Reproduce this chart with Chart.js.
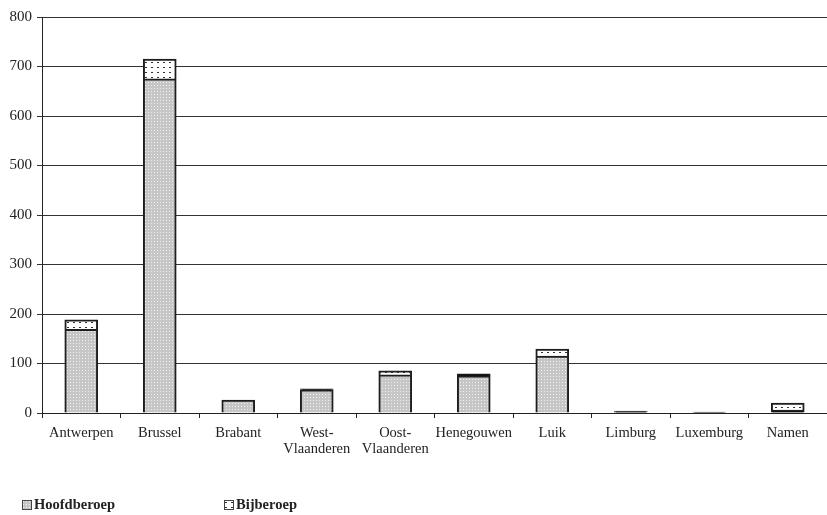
<!DOCTYPE html>
<html>
<head>
<meta charset="utf-8">
<script src="https://cdn.jsdelivr.net/npm/chart.js@4/dist/chart.umd.min.js"></script>
<style>
  html, body { margin: 0; padding: 0; background: #fff; }
  #wrap { position: relative; width: 827px; height: 515px; }
  #chart { position: absolute; left: 0; top: 0; }
  .legend { position: absolute; top: 496px; font: bold 14.5px "Liberation Serif", serif; color: #222; display: flex; align-items: center; }
  .legend canvas { margin-right: 2px; }
</style>
</head>
<body>
<div id="wrap">
  <canvas id="chart" width="827" height="515"></canvas>
  <div class="legend" style="left:22px"><canvas id="sw0" width="10" height="10"></canvas><span>Hoofdberoep</span></div>
  <div class="legend" style="left:224px"><canvas id="sw1" width="10" height="10"></canvas><span>Bijberoep</span></div>
</div>
<script>
// Provinces / regions on the x axis
const categories = [
  'Antwerpen', 'Brussel', 'Brabant', ['West-', 'Vlaanderen'], ['Oost-', 'Vlaanderen'],
  'Henegouwen', 'Luik', 'Limburg', 'Luxemburg', 'Namen'
];
// Main occupation
const hoofdberoep = [169, 675, 26, 47, 77, 75, 115, 3, 2, 6];
// Secondary occupation
const bijberoep = [19, 40, 0, 2, 8, 4, 14, 1, 0, 14];
// Value axis ticks
const yTicks = [0, 100, 200, 300, 400, 500, 600, 700, 800];

const seriesNames = ['Hoofdberoep', 'Bijberoep'];

// Fine grey texture for the main series
function greyPattern() {
  const c = document.createElement('canvas');
  c.width = 3; c.height = 3;
  const g = c.getContext('2d');
  g.fillStyle = '#c6c6c6';
  g.fillRect(0, 0, 3, 3);
  g.fillStyle = '#f0f0f0';
  g.fillRect(1, 1, 1, 1);
  return c;
}
// Sparse black dots on white for the secondary series
function dotPattern() {
  const c = document.createElement('canvas');
  c.width = 6; c.height = 5;
  const g = c.getContext('2d');
  g.fillStyle = '#ffffff';
  g.fillRect(0, 0, 6, 5);
  g.fillStyle = '#333333';
  g.fillRect(1, 2, 2, 1);
  return c;
}

const ctx = document.getElementById('chart').getContext('2d');
const greyFill = ctx.createPattern(greyPattern(), 'repeat');
const dotFill = ctx.createPattern(dotPattern(), 'repeat');

// Legend swatches
function swatch(id, src) {
  const s = document.getElementById(id).getContext('2d');
  s.fillStyle = s.createPattern(src, 'repeat');
  s.fillRect(0, 0, 10, 10);
  s.strokeStyle = '#444';
  s.lineWidth = 1;
  s.strokeRect(0.5, 0.5, 9, 9);
}
swatch('sw0', greyPattern());
swatch('sw1', dotPattern());

const serif = '"Liberation Serif", "DejaVu Serif", serif';

// Segments only a pixel or two tall read as a solid dark stroke
function fillFor(pattern) {
  return (c) => {
    const v = c.raw;
    const ys = c.chart.scales.y;
    if (!ys || v == null) return pattern;
    const h = Math.abs(ys.getPixelForValue(0) - ys.getPixelForValue(v));
    return h < 3 ? '#111111' : pattern;
  };
}

new Chart(ctx, {
  type: 'bar',
  data: {
    labels: categories,
    datasets: [
      {
        label: seriesNames[0],
        data: hoofdberoep,
        backgroundColor: fillFor(greyFill),
        borderColor: '#1e1e1e',
        borderWidth: 2,
        barThickness: 33
      },
      {
        label: seriesNames[1],
        data: bijberoep,
        backgroundColor: fillFor(dotFill),
        borderColor: '#1e1e1e',
        borderWidth: 2,
        barThickness: 33
      }
    ]
  },
  options: {
    responsive: false,
    animation: false,
    events: [],
    layout: { padding: { top: 17, right: 0, left: 0, bottom: 52 } },
    plugins: {
      legend: { display: false },
      tooltip: { enabled: false }
    },
    scales: {
      x: {
        stacked: true,
        grid: {
          offset: true,
          drawOnChartArea: false,
          drawTicks: true,
          tickLength: 5,
          color: '#222'
        },
        border: { color: '#222', width: 1 },
        ticks: {
          color: '#222',
          padding: 7.5,
          maxRotation: 0,
          autoSkip: false,
          font: { family: serif, size: 14.5, lineHeight: 1.1 }
        },
        afterFit(scale) { scale.height = 50; }
      },
      y: {
        stacked: true,
        min: 0,
        max: 800,
        afterBuildTicks(scale) { scale.ticks = yTicks.map(v => ({ value: v })); },
        grid: {
          color: '#333',
          lineWidth: 1,
          drawTicks: true,
          tickLength: 5
        },
        border: { color: '#222', width: 1 },
        ticks: {
          color: '#222',
          padding: 5,
          font: { family: serif, size: 15 }
        },
        afterFit(scale) { scale.width = 42; }
      }
    }
  }
});
</script>
</body>
</html>
